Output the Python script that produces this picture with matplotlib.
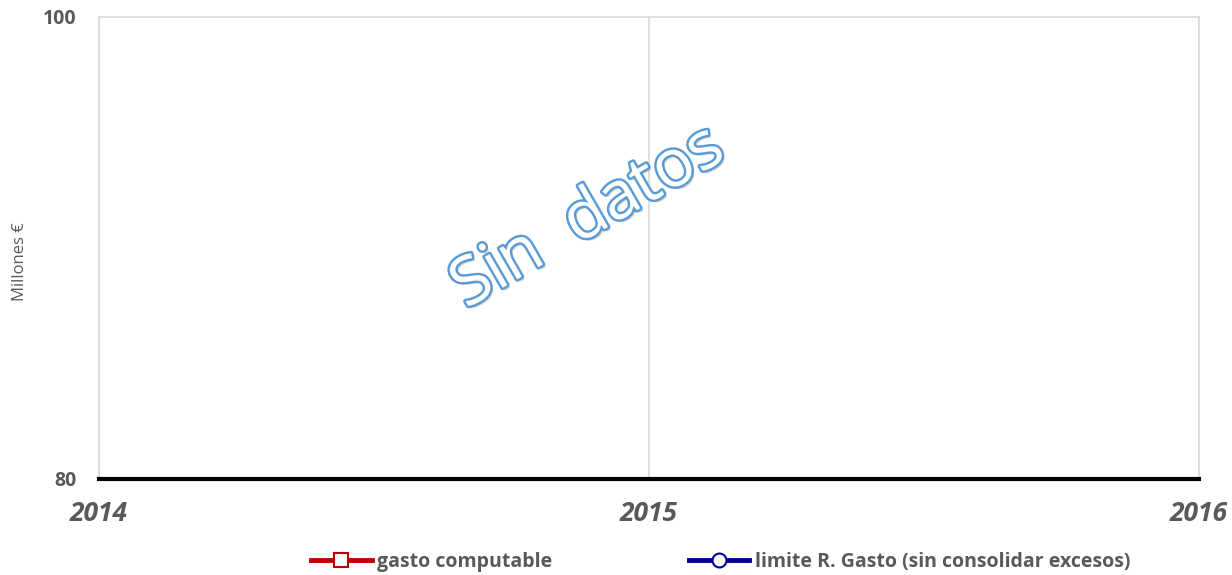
import matplotlib.pyplot as plt
import matplotlib.patheffects as pe

# sin datos: las series van vacias
years = [2014, 2015, 2016]
gasto_computable = []
limite_gasto = []
y_ticks = [80, 100]

plt.rcParams['font.family'] = ['Open Sans', 'DejaVu Sans']

fig = plt.figure(figsize=(12.32, 5.75), dpi=100)
ax = fig.add_axes([99 / 1232, 1 - 479 / 575, 1100 / 1232, 462 / 575])

ax.plot(years[:len(gasto_computable)], gasto_computable, color='#C00000', lw=3.5,
        marker='s', markersize=10, markerfacecolor='white',
        markeredgecolor='#C00000', markeredgewidth=1.5, label='gasto computable')
ax.plot(years[:len(limite_gasto)], limite_gasto, color='#000099', lw=3.5,
        marker='o', markersize=10, markerfacecolor='white',
        markeredgecolor='#000099', markeredgewidth=1.5,
        label='limite R. Gasto (sin consolidar excesos)')

ax.set_xlim(years[0], years[-1])
ax.set_ylim(y_ticks[0], y_ticks[-1])
ax.set_xticks(years)
ax.set_yticks(y_ticks)
ax.set_xticklabels([str(y) for y in years], fontsize=19, fontweight='bold',
                   fontstyle='italic', color='#595959')
ax.set_yticklabels([str(v) for v in y_ticks], fontsize=14, fontweight='bold',
                   color='#595959')
ax.tick_params(axis='x', length=0, pad=15)
ax.tick_params(axis='y', length=0, pad=16)
ax.grid(axis='x', color='#D9D9D9', lw=1.2)

for s in ['left', 'top', 'right']:
    ax.spines[s].set_color('#D9D9D9')
    ax.spines[s].set_linewidth(1.2)
ax.spines['bottom'].set_color('black')
ax.spines['bottom'].set_linewidth(3)

fig.text(20 / 1232, 1 - 262 / 575, 'Millones €', rotation=90, ha='center',
         va='center', fontsize=12, color='#595959')

ax.text(0.4445, 0.565, 'Sin  datos', transform=ax.transAxes, rotation=30,
        rotation_mode='anchor', ha='center', va='center', fontsize=48,
        color='white',
        path_effects=[pe.withSimplePatchShadow(offset=(2, -2), shadow_rgbFace='#999999', alpha=0.4),
                      pe.Stroke(linewidth=3.5, foreground='#5B9BD5'), pe.Normal()])

leg = fig.legend(loc='center', bbox_to_anchor=(0.585, 1 - 562 / 575), ncol=2,
                 frameon=False, fontsize=14, handlelength=3.1, columnspacing=7,
                 handletextpad=0.3)
for t in leg.get_texts():
    t.set_color('#595959')
    t.set_fontweight('bold')

fig.savefig('out.png', dpi=100)
